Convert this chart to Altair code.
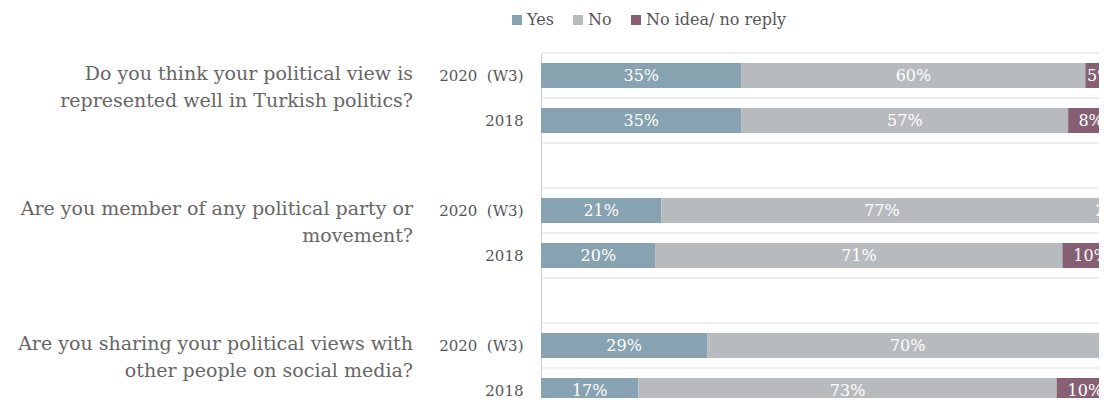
import altair as alt
import pandas as pd

# ---- data ----
questions = [
    "Do you think your political view is\nrepresented well in Turkish politics?",
    "Are you member of any political party or\nmovement?",
    "Are you sharing your political views with\nother people on social media?",
]
waves = ["2020\u00a0\u00a0(W3)", "2018"]
categories = ["Yes", "No", "No idea/ no reply"]
colors = ["#87a2b1", "#b8bbbe", "#875f72"]

yes_vals = [35, 35, 21, 20, 29, 17]
no_vals = [60, 57, 77, 71, 70, 73]
noidea_vals = [5, 8, 2, 10, 1, 10]

# ---- build tables ----
row_keys = []
for qi in range(len(questions)):
    for wi in range(len(waves)):
        row_keys.append(f"r{qi}{wi}")
    row_keys.append(f"g{qi}")
boundaries = [f"b{k}" for k in range(len(row_keys) + 1)]

records = []
i = 0
for qi in range(len(questions)):
    for wi in range(len(waves)):
        for ci, (cat, vals) in enumerate(zip(categories, [yes_vals, no_vals, noidea_vals])):
            records.append({"row": f"r{qi}{wi}", "cat": cat, "ord": ci,
                            "value": vals[i], "label": f"{vals[i]}%"})
        i += 1
df = pd.DataFrame(records)

qdf = pd.DataFrame({"row": [f"r{qi}0" for qi in range(len(questions))],
                    "qtext": questions})
gdf = pd.DataFrame({"b": boundaries})

FONT = "DejaVu Serif"
Y_RANGE = [0, 405]

y_scale = alt.Scale(domain=row_keys, range=Y_RANGE, paddingInner=0, paddingOuter=0)
x_scale = alt.Scale(domain=[0, 100], range=[0, 573])

label_expr = ("substring(datum.value, 0, 1) == 'g' ? '' : "
              f"(substring(datum.value, 2, 3) == '0' ? '{waves[0]}' : '{waves[1]}')")

y_enc = alt.Y(
    "row:N",
    scale=y_scale,
    axis=alt.Axis(
        title=None,
        labelExpr=label_expr,
        ticks=False,
        grid=False,
        domain=True,
        domainColor="#cccccc",
        labelPadding=18,
        labelFont=FONT,
        labelFontSize=15,
        labelColor="#555555",
    ),
)

grid = alt.Chart(gdf).mark_rule(color="#dddddd", strokeWidth=1).encode(
    y=alt.Y("b:O", scale=alt.Scale(type="point", domain=boundaries,
                                     range=Y_RANGE, padding=0), axis=None),
    x=alt.value(0),
    x2=alt.value(573),
)

bars = alt.Chart(df).mark_bar(size=25).encode(
    y=y_enc,
    x=alt.X("value:Q", stack="zero", scale=x_scale, axis=None),
    order=alt.Order("ord:Q"),
    color=alt.Color(
        "cat:N",
        scale=alt.Scale(domain=categories, range=colors),
        legend=alt.Legend(
            title=None, orient="none", direction="horizontal",
            legendX=-32, legendY=-41,
            symbolType="square", symbolSize=100,
            labelFont=FONT, labelFontSize=16, labelColor="#555555",
            labelOffset=2, columnPadding=16,
        ),
    ),
)

labels = alt.Chart(df).transform_stack(
    stack="value", groupby=["row"], as_=["v0", "v1"],
    sort=[alt.SortField("ord", order="ascending")],
).transform_calculate(mid="(datum.v0 + datum.v1) / 2").mark_text(
    font=FONT, fontSize=16, color="white", baseline="middle", align="center"
).encode(
    y=alt.Y("row:N", scale=y_scale),
    x=alt.X("mid:Q", scale=x_scale, axis=None),
    text="label:N",
)

qtext = alt.Chart(qdf).mark_text(
    font=FONT, fontSize=19, color="#666666", align="right",
    baseline="middle", lineHeight=27, dy=-1.5, lineBreak="\n",
).encode(
    y=alt.Y("row:N", scale=y_scale),
    x=alt.value(-128),
    text="qtext:N",
)

main = alt.layer(bars, labels, qtext)

chart = alt.layer(grid, main).resolve_scale(y="independent").properties(
    width=558, height=345,
    autosize=alt.AutoSizeParams(type="none"),
    padding={"left": 533, "top": 45, "right": 0, "bottom": 0},
).configure_view(stroke=None)

chart.save("out.html", embed_options={"renderer": "svg", "actions": False})
